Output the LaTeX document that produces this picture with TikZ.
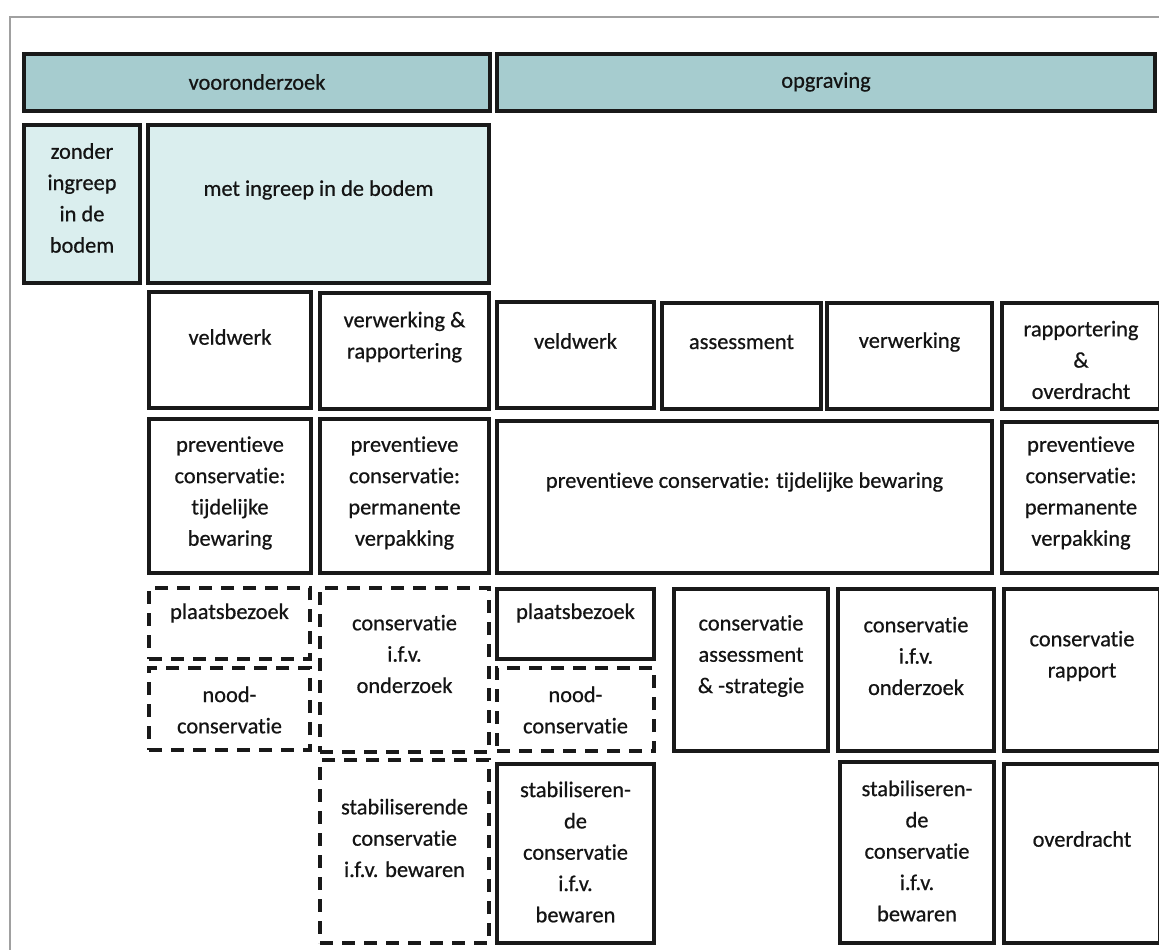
\documentclass[tikz,border=0pt]{standalone}
\usepackage{fontspec}
\setmainfont{Carlito}[RawFeature={-liga,-dlig}, FakeBold=0.6]
\definecolor{hdr}{RGB}{166,204,207}
\definecolor{lite}{RGB}{218,238,238}
\definecolor{frame}{RGB}{160,160,160}
\tikzset{
 box/.style={draw=black!90, line width=3.4pt, fill=white, inner sep=0pt, outer sep=0pt},
 hbox/.style={box, fill=hdr},
 lbox/.style={box, fill=lite},
 dbox/.style={box, dash pattern=on 13pt off 9pt},
 txt/.style={align=center, font=\fontsize{22.4}{31.3}\selectfont, inner sep=0pt, text=black!92}
}
\newcommand\bx[8]{%
 \pgfmathsetmacro\bw{#5-#3}\pgfmathsetmacro\bh{#6-#4}%
 \node[#2, minimum width=\bw pt, minimum height=\bh pt, anchor=north west] (#1) at (#3,#4) {};
 \node[txt] (#1-t) at ({(#3+#5)/2},#7) {#8};}
\begin{document}
\begin{tikzpicture}[x=1pt,y=-1pt]
\useasboundingbox (0,0) rectangle (1159,950);
\coordinate (fa) at (10,950);
\coordinate (fb) at (10,17);
\coordinate (fc) at (1159,17);
\draw[frame, line width=1.5pt] (fa) -- (fb) -- (fc);
% headers
\bx{voor}{hbox}{24}{54}{490}{111}{82}{vooronderzoek}
\bx{opgr}{hbox}{497}{54}{1155}{111}{82}{opgraving}
\bx{zonder}{lbox}{24}{125}{140}{283}{198}{zonder\\ingreep\\in de\\bodem}
\bx{met}{lbox}{148}{125}{489}{283}{190}{met ingreep in de bodem}
% row 2
\bx{vveld}{box}{149}{292}{311}{408}{337}{veldwerk}
\bx{vverw}{box}{320}{293}{489}{409}{337}{verwerking \&\\rapportering}
\bx{oveld}{box}{497}{302}{654}{408}{341}{veldwerk}
\bx{oass}{box}{662}{303}{821}{409}{342}{assessment}
\bx{overw}{box}{827}{303}{992}{409}{342}{verwerking}
\bx{orapp}{box}{1002}{303}{1160}{409}{360}{rapportering\\\&\\overdracht}
% row 3
\bx{vprev1}{box}{149}{419}{311}{573}{493}{preventieve\\conservatie:\\tijdelijke\\bewaring}
\bx{vprev2}{box}{320}{419}{489}{573}{493}{preventieve\\conservatie:\\permanente\\verpakking}
\bx{oprev1}{box}{497}{421}{992}{573}{482}{preventieve conservatie: tijdelijke bewaring}
\bx{oprev2}{box}{1002}{422}{1160}{573}{493}{preventieve\\conservatie:\\permanente\\verpakking}
% row 4 vooronderzoek
\bx{vplaats}{dbox}{149}{588}{310}{659}{613}{plaatsbezoek}
\bx{vnood}{dbox}{149}{668}{310}{750}{710}{nood-\\conservatie}
\bx{vcons}{dbox}{320}{588}{489}{752}{654}{conservatie\\i.f.v.\\onderzoek}
\bx{vstab}{dbox}{320}{760}{489}{943}{838}{stabiliserende\\conservatie\\i.f.v. bewaren}
% row 4 opgraving
\bx{oplaats}{box}{497}{589}{654}{659}{613}{plaatsbezoek}
\bx{onood}{dbox}{497}{668}{654}{751}{710}{nood-\\conservatie}
\bx{ostab}{box}{497}{764}{654}{943}{852}{stabiliseren-\\de\\conservatie\\i.f.v.\\bewaren}
\bx{oassc}{box}{674}{589}{828}{751}{656}{conservatie\\assessment\\\& -strategie}
\bx{ocons}{box}{838}{589}{994}{751}{656}{conservatie\\i.f.v.\\onderzoek}
\bx{orapc}{box}{1004}{589}{1160}{751}{656}{conservatie\\rapport}
\bx{ostab2}{box}{840}{762}{994}{943}{851}{stabiliseren-\\de\\conservatie\\i.f.v.\\bewaren}
\bx{oover}{box}{1004}{764}{1160}{943}{839}{overdracht}
\end{tikzpicture}
\end{document}
